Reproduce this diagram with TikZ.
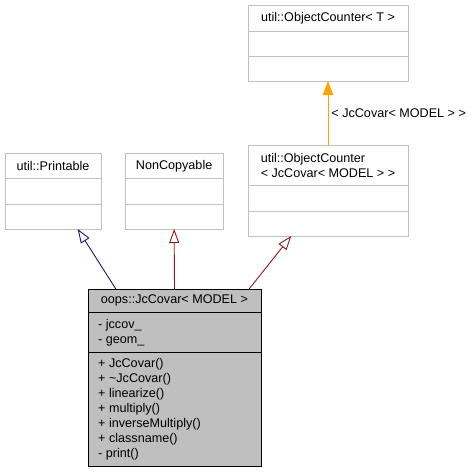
\documentclass[tikz,border=0pt]{standalone}
\usepackage{fontspec}
\setmainfont{Liberation Sans}
\definecolor{frame}{RGB}{191,191,191}
\definecolor{mainfill}{RGB}{191,191,191}
\definecolor{navyline}{RGB}{25,25,112}
\definecolor{privline}{RGB}{139,26,26}
\definecolor{tmplline}{RGB}{255,165,0}
\usetikzlibrary{arrows.meta,positioning,calc}

\begin{document}
\begin{tikzpicture}[x=1pt,y=-1pt,
    cls/.style={draw=frame,fill=white,line width=0.9pt,inner sep=0pt,outer sep=0pt,anchor=north west},
    sep/.style={frame,line width=0.9pt},
    txt/.style={font=\fontsize{12.6}{15}\selectfont,text=black,inner sep=0pt},
    isa/.style={line width=0.9pt,-{Triangle[open,length=14pt,width=10pt]}}]
        \useasboundingbox (0,0) rectangle (475,472);
        % template base
        \node[cls,minimum width=160,minimum height=75.3] (ocT) at (248,5.7) {};
        \draw[sep] ($(ocT.north west)+(0,26)$) -- ($(ocT.north east)+(0,26)$);
        \draw[sep] ($(ocT.north west)+(0,51)$) -- ($(ocT.north east)+(0,51)$);
        \node[txt] (ocTname) at ($(ocT.north)+(0,13)$) {util::ObjectCounter< T >};
        % instantiated counter
        \node[cls,minimum width=160,minimum height=90.3] (ocJ) at (248,145.7) {};
        \draw[sep] ($(ocJ.north west)+(0,40)$) -- ($(ocJ.north east)+(0,40)$);
        \draw[sep] ($(ocJ.north west)+(0,65.3)$) -- ($(ocJ.north east)+(0,65.3)$);
        \node[txt,align=left] (ocJname) at ($(ocJ.north)+(0,20)$) {util::ObjectCounter\\< JcCovar< MODEL > >};
        % other bases
        \node[cls,minimum width=96,minimum height=75.7] (printable) at (5,153.3) {};
        \draw[sep] ($(printable.north west)+(0,25)$) -- ($(printable.north east)+(0,25)$);
        \draw[sep] ($(printable.north west)+(0,50.7)$) -- ($(printable.north east)+(0,50.7)$);
        \node[txt] (printablename) at ($(printable.north)+(0,12.5)$) {util::Printable};
        \node[cls,minimum width=98.3,minimum height=75.7] (noncopy) at (125,153.3) {};
        \draw[sep] ($(noncopy.north west)+(0,25)$) -- ($(noncopy.north east)+(0,25)$);
        \draw[sep] ($(noncopy.north west)+(0,50.7)$) -- ($(noncopy.north east)+(0,50.7)$);
        \node[txt] (noncopyname) at ($(noncopy.north)+(0,12.5)$) {NonCopyable};
        % the class itself
        \node[cls,draw=black,fill=mainfill,minimum width=173,minimum height=176.7] (jccovar) at (88,289.3) {};
        \draw[line width=0.9pt] ($(jccovar.north west)+(0,23)$) -- ($(jccovar.north east)+(0,23)$);
        \draw[line width=0.9pt] ($(jccovar.north west)+(0,63)$) -- ($(jccovar.north east)+(0,63)$);
        \node[txt] (jcname) at ($(jccovar.north)+(0,11.5)$) {oops::JcCovar< MODEL >};
        \node[txt,anchor=west,align=left] (jcattr) at ($(jccovar.north west)+(10,43)$) {- jccov\_\\- geom\_};
        \node[txt,anchor=west,align=left] (jcops) at ($(jccovar.north west)+(10,120)$)
          {+ JcCovar()\\+ \textasciitilde JcCovar()\\+ linearize()\\+ multiply()\\+ inverseMultiply()\\+ classname()\\- print()};
        % inheritance
        \draw[isa,navyline] ($(jccovar.north west)!0.162!(jccovar.north east)$) -- ($(printable.south west)!0.757!(printable.south east)$);
        \draw[isa,privline] (jccovar.north) -- (noncopy.south);
        \draw[isa,privline] ($(jccovar.north west)!0.93!(jccovar.north east)$) -- ($(ocJ.south west)!0.27!(ocJ.south east)$);
        \draw[line width=0.9pt,tmplline,-{Triangle[length=14pt,width=10.5pt]}] (ocJ.north) -- node[txt,right=3pt] (tmplarg) {< JcCovar< MODEL > >} (ocT.south);
      \end{tikzpicture}
\end{document}
